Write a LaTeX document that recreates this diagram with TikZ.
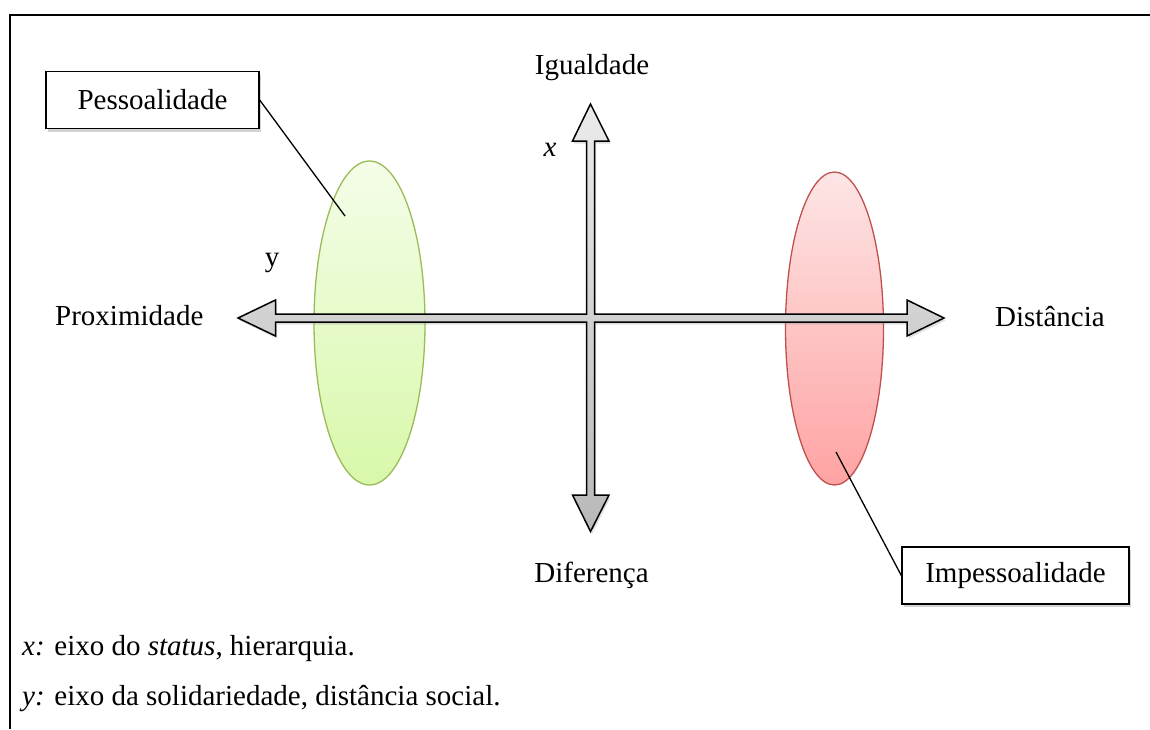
\documentclass[tikz,border=0pt]{standalone}
\usepackage{fontspec}
\setmainfont{Liberation Serif}
\usetikzlibrary{shapes.geometric,shadows}
\definecolor{grnline}{HTML}{9BBB59}
\definecolor{grntop}{HTML}{F4FDE8}
\definecolor{grnbot}{HTML}{D8F8AA}
\definecolor{redline}{HTML}{C0504D}
\definecolor{redtop}{HTML}{FDE5E5}
\definecolor{redbot}{HTML}{FFA3A3}
\definecolor{arrtop}{HTML}{EBEBEB}
\definecolor{arrbot}{HTML}{B8B8B8}
\tikzset{
  txt/.style={font=\fontsize{29}{34}\selectfont, inner sep=0pt},
  labelbox/.style={draw=black, line width=1.4pt, fill=white, minimum width=213pt, minimum height=57pt, inner sep=0pt,
    font=\fontsize{29}{34}\selectfont, drop shadow={shadow xshift=2pt, shadow yshift=-3pt, opacity=0.35}},
  blob/.style={ellipse, inner sep=0pt, line width=1.3pt},
  leader/.style={draw=black, line width=1.3pt},
  frameline/.style={draw=black, line width=2.4pt},
}
\begin{document}
\begin{tikzpicture}[x=1pt,y=-1pt]
\useasboundingbox (0,0) rectangle (1150,729);
% frame
\draw[frameline] (10,729) -- (10,15) -- (1152,15);
% ellipses
\node[blob, draw=grnline, top color=grntop, bottom color=grnbot, minimum width=111pt, minimum height=324pt] (pess) at (369.5,323) {};
\node[blob, draw=redline, top color=redtop, bottom color=redbot, minimum width=98pt, minimum height=313pt] (imp) at (834.5,328.5) {};
\coordinate (pin1) at (345,216);
\coordinate (pin2) at (836,452);
% cross arrows
\path[draw=black, line width=1.5pt, line join=miter, top color=arrtop, bottom color=arrbot,
  drop shadow={shadow xshift=1.5pt, shadow yshift=-2.5pt, opacity=0.25}]
  (238,318) -- (275.5,300) -- (275.5,314) -- (586.5,314) -- (586.5,141) -- (572.5,141) -- (590.5,104)
  -- (609,141) -- (594.5,141) -- (594.5,314) -- (907,314) -- (907,300) -- (944,318) -- (907,336)
  -- (907,322) -- (594.5,322) -- (594.5,495) -- (609,495) -- (590.5,531.5) -- (572.5,495)
  -- (586.5,495) -- (586.5,322) -- (275.5,322) -- (275.5,336) -- cycle;
% boxes
\node[labelbox] (bpess) at (152.5,100) {Pessoalidade};
\node[labelbox, minimum width=227pt] (bimp) at (1015.5,575.5) {Impessoalidade};
\draw[leader] (bpess.east) -- (pin1);
\draw[leader] (pin2) -- (bimp.west);
% labels
\node[txt, anchor=base] (igual) at (592,74) {Igualdade};
\node[txt, anchor=base] (dif) at (591.5,582.5) {Diferença};
\node[txt, anchor=base west] (prox) at (55,325) {Proximidade};
\node[txt, anchor=base west] (dist) at (995,326) {Distância};
\node[txt, anchor=base] (xl) at (550,156) {\itshape x};
\node[txt, anchor=base] (yl) at (272,266) {y};
\node[txt, anchor=base west] (n1) at (22,655) {\textit{x:} eixo do \textit{status}, hierarquia.};
\node[txt, anchor=base west] (n2) at (22,705.5) {\textit{y:} eixo da solidariedade, distância social.};
\end{tikzpicture}
\end{document}
